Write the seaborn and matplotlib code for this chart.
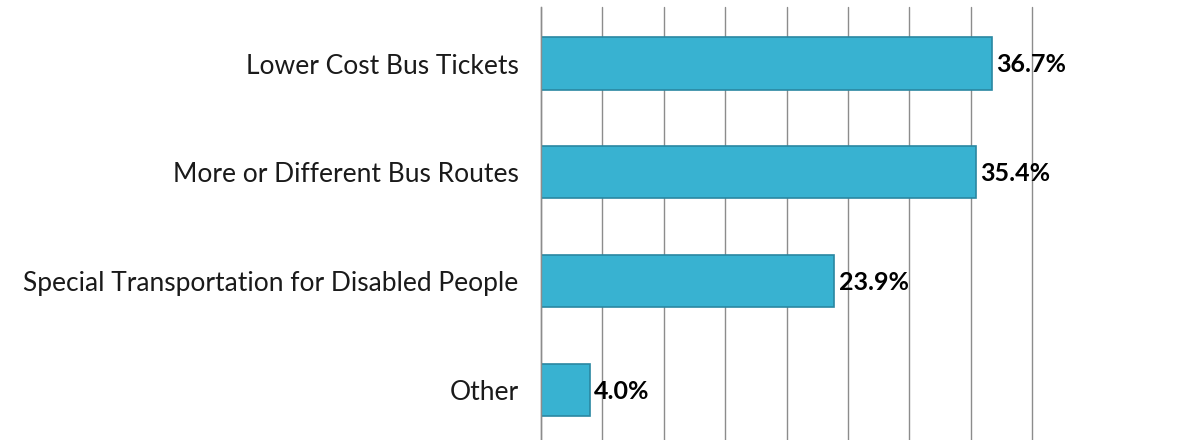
import pandas as pd
import seaborn as sns
import matplotlib.pyplot as plt

categories = ["Lower Cost Bus Tickets", "More or Different Bus Routes",
              "Special Transportation for Disabled People", "Other"]
values = [36.7, 35.4, 23.9, 4.0]
value_labels = ["36.7%", "35.4%", "23.9%", "4.0%"]

df = pd.DataFrame({"category": categories, "pct": values})

sns.set_theme(style="white")
plt.rcParams['font.family'] = ['Lato', 'DejaVu Sans']

fig = plt.figure(figsize=(11.81, 4.4), dpi=100)
ax = fig.add_axes([0.458, 0.0, 0.416, 0.984])

sns.barplot(data=df, x="pct", y="category", orient="h", color="#38b2d1",
            edgecolor="#2a87a2", linewidth=1.2, width=0.48, saturation=1, ax=ax)

ax.set_xlim(0, 40)
ax.set_ylim(3.46, -0.52)
ax.set_xticks(range(0, 41, 5))
ax.set_xticklabels([])
ax.xaxis.grid(True, color="#8c8c8c", linewidth=1.0)
for gl in ax.get_xgridlines():
    gl.set_clip_on(False)
ax.set_axisbelow(True)
ax.set_xlabel("")
ax.set_ylabel("")
ax.tick_params(axis="y", length=0, pad=16, labelsize=19, labelcolor="#1a1a1a")
ax.tick_params(axis="x", length=0)
for side in ["top", "right", "bottom"]:
    ax.spines[side].set_visible(False)
ax.spines["left"].set_color("#8c8c8c")
ax.spines["left"].set_linewidth(1.0)

# value labels next to bar ends
for i, (v, lab) in enumerate(zip(values, value_labels)):
    ax.annotate(lab, (v, i), xytext=(3, -1), textcoords="offset points",
                ha="left", va="center", fontsize=18, fontweight="bold", color="black")

plt.savefig("out.png", dpi=100)
